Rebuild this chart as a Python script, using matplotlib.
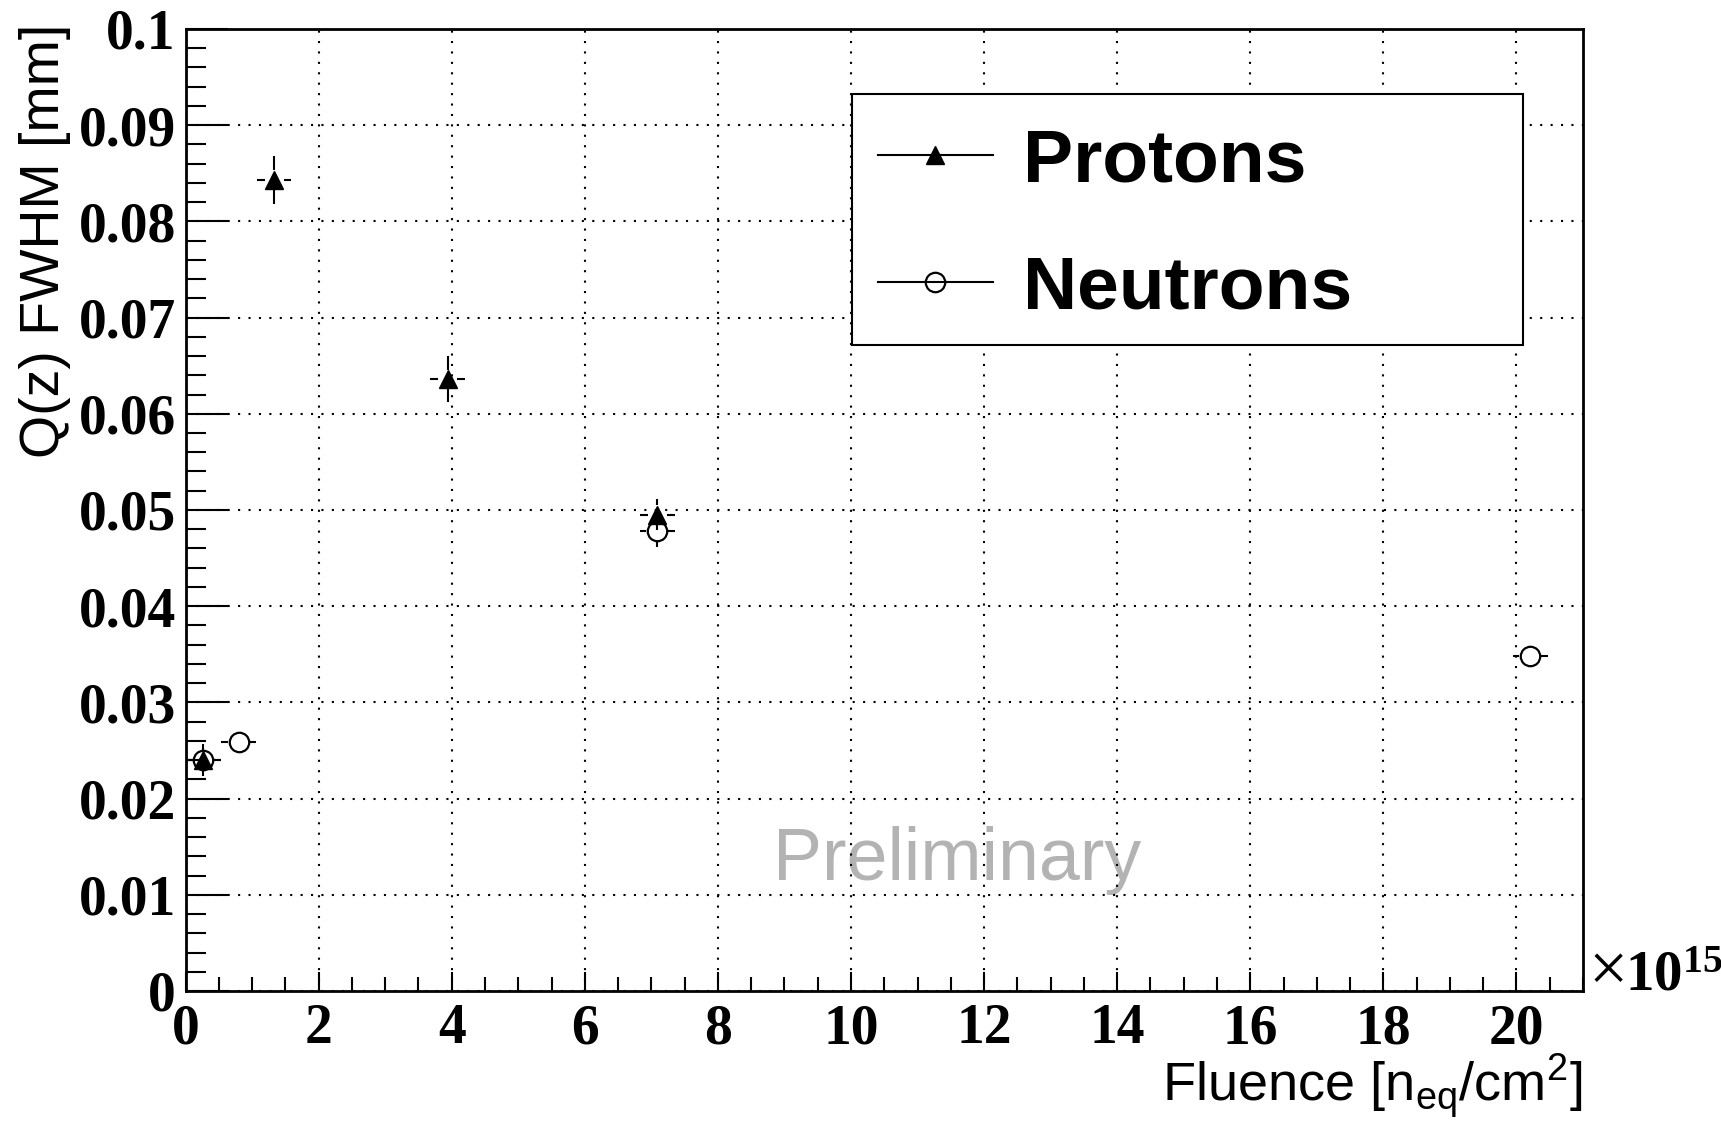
import matplotlib
matplotlib.use("Agg")
import matplotlib.pyplot as plt
from matplotlib.lines import Line2D
from matplotlib.patches import Rectangle
from matplotlib.ticker import MultipleLocator, FuncFormatter
import numpy as np

# fluence in units of 1e15 n_eq/cm^2, FWHM in mm
proton_x = [0.27, 1.33, 3.94, 7.09]
proton_y = [0.0240, 0.0843, 0.0636, 0.0495]
proton_xerr = [0.26, 0.26, 0.26, 0.26]
proton_yerr = [0.0017, 0.0025, 0.0024, 0.0016]

neutron_x = [0.27, 0.80, 7.09, 20.21]
neutron_y = [0.0240, 0.0259, 0.0478, 0.0348]
neutron_xerr = [0.26, 0.26, 0.26, 0.26]
neutron_yerr = [0.0008, 0.0008, 0.0016, 0.0008]

series_names = ["Protons", "Neutrons"]

serif = "Liberation Serif"
sans = "Liberation Sans"


def gapped_errors(ax, x, y, xerr, yerr, gap_px, lw=1.5):
    # error bars stop at the marker edge, like ROOT draws them
    inv = ax.transData.inverted()
    x0, y0 = inv.transform((0, 0))
    x1, y1 = inv.transform((gap_px, gap_px))
    gx, gy = x1 - x0, y1 - y0
    for xi, yi, ex, ey in zip(x, y, xerr, yerr):
        if ey > gy:
            ax.vlines([xi, xi], [yi - ey, yi + gy], [yi - gy, yi + ey],
                      color="black", lw=lw, zorder=3)
        if ex > gx:
            ax.hlines([yi, yi], [xi - ex, xi + gx], [xi - gx, xi + ex],
                      color="black", lw=lw, zorder=3)


fig = plt.figure(figsize=(17.21, 11.31), dpi=100, facecolor="white")
ax = fig.add_axes([0.1078, 0.1238, 0.8120, 0.8506])

ax.set_xlim(0, 21)
ax.set_ylim(0, 0.1)

for side in ["left", "bottom", "right", "top"]:
    ax.spines[side].set_linewidth(2.0)

ax.xaxis.set_major_locator(MultipleLocator(2))
ax.xaxis.set_minor_locator(MultipleLocator(0.5))
ax.yaxis.set_major_locator(MultipleLocator(0.01))
ax.yaxis.set_minor_locator(MultipleLocator(0.002))
ax.yaxis.set_major_formatter(FuncFormatter(lambda v, p: f"{round(v, 3):g}"))
ax.xaxis.set_major_formatter(FuncFormatter(lambda v, p: f"{v:g}"))

ax.tick_params(axis="both", which="both", direction="in", top=False, right=False, width=1.5)
ax.tick_params(axis="x", which="major", length=14, pad=9)
ax.tick_params(axis="x", which="minor", length=10)
ax.tick_params(axis="y", which="major", length=30, pad=7)
ax.tick_params(axis="y", which="minor", length=14.5)
for lab in ax.get_xticklabels() + ax.get_yticklabels():
    lab.set_fontfamily(serif)
    lab.set_fontweight("bold")
    lab.set_fontsize(40)

ax.grid(True, which="major", color="black", linestyle=(0, (1, 4)), linewidth=1.5)

ax.text(8.83, 0.01154, "Preliminary", family=sans, fontsize=53, color="#b3b3b3",
        ha="left", va="baseline", zorder=1)

gapped_errors(ax, proton_x, proton_y, proton_xerr, proton_yerr, gap_px=9.5)
gapped_errors(ax, neutron_x, neutron_y, neutron_xerr, neutron_yerr, gap_px=11)
ax.plot(proton_x, proton_y, linestyle="none", marker="^", ms=13, color="black", zorder=4)
ax.plot(neutron_x, neutron_y, linestyle="none", marker="o", ms=14, mfc="none",
        mec="black", mew=1.6, zorder=4)

ax.set_xlabel(r"Fluence [n$_\mathregular{eq}$/cm$^\mathregular{2}$]", family=sans,
              fontsize=39, loc="right")
ax.xaxis.set_label_coords(0.9993, -0.0630)
ax.set_ylabel("Q(z) FWHM [mm]", family=sans, fontsize=40, loc="top")
ax.yaxis.set_label_coords(-0.0820, 1.0052)

# axis multiplier
ax.text(1.0040, 0.0, "\u00d7", transform=ax.transAxes, family=serif, fontsize=50,
        ha="left", va="baseline", clip_on=False)
ax.text(1.0300, 0.0, r"$\mathregular{10^{15}}$", transform=ax.transAxes, family=serif,
        fontweight="bold", fontsize=41, ha="left", va="baseline", clip_on=False)

# legend box
ax.add_patch(Rectangle((0.4769, 0.6715), 0.4802, 0.2609, transform=ax.transAxes,
                       facecolor="white", edgecolor="black", lw=1.5, zorder=5))
handles = [
    Line2D([], [], color="black", lw=1.5, marker="^", ms=13),
    Line2D([], [], color="black", lw=1.5, marker="o", ms=14, mfc="none", mew=1.6),
]
leg = ax.legend(handles, series_names, loc="center left", bbox_to_anchor=(0.4955, 0.7958),
                frameon=False, borderpad=0, borderaxespad=0, numpoints=1,
                handlelength=1.53, handletextpad=0.4, labelspacing=0.78,
                prop={"family": sans, "weight": "bold", "size": 54})
leg.set_zorder(6)

fig.savefig("out.png", dpi=100, facecolor="white")
